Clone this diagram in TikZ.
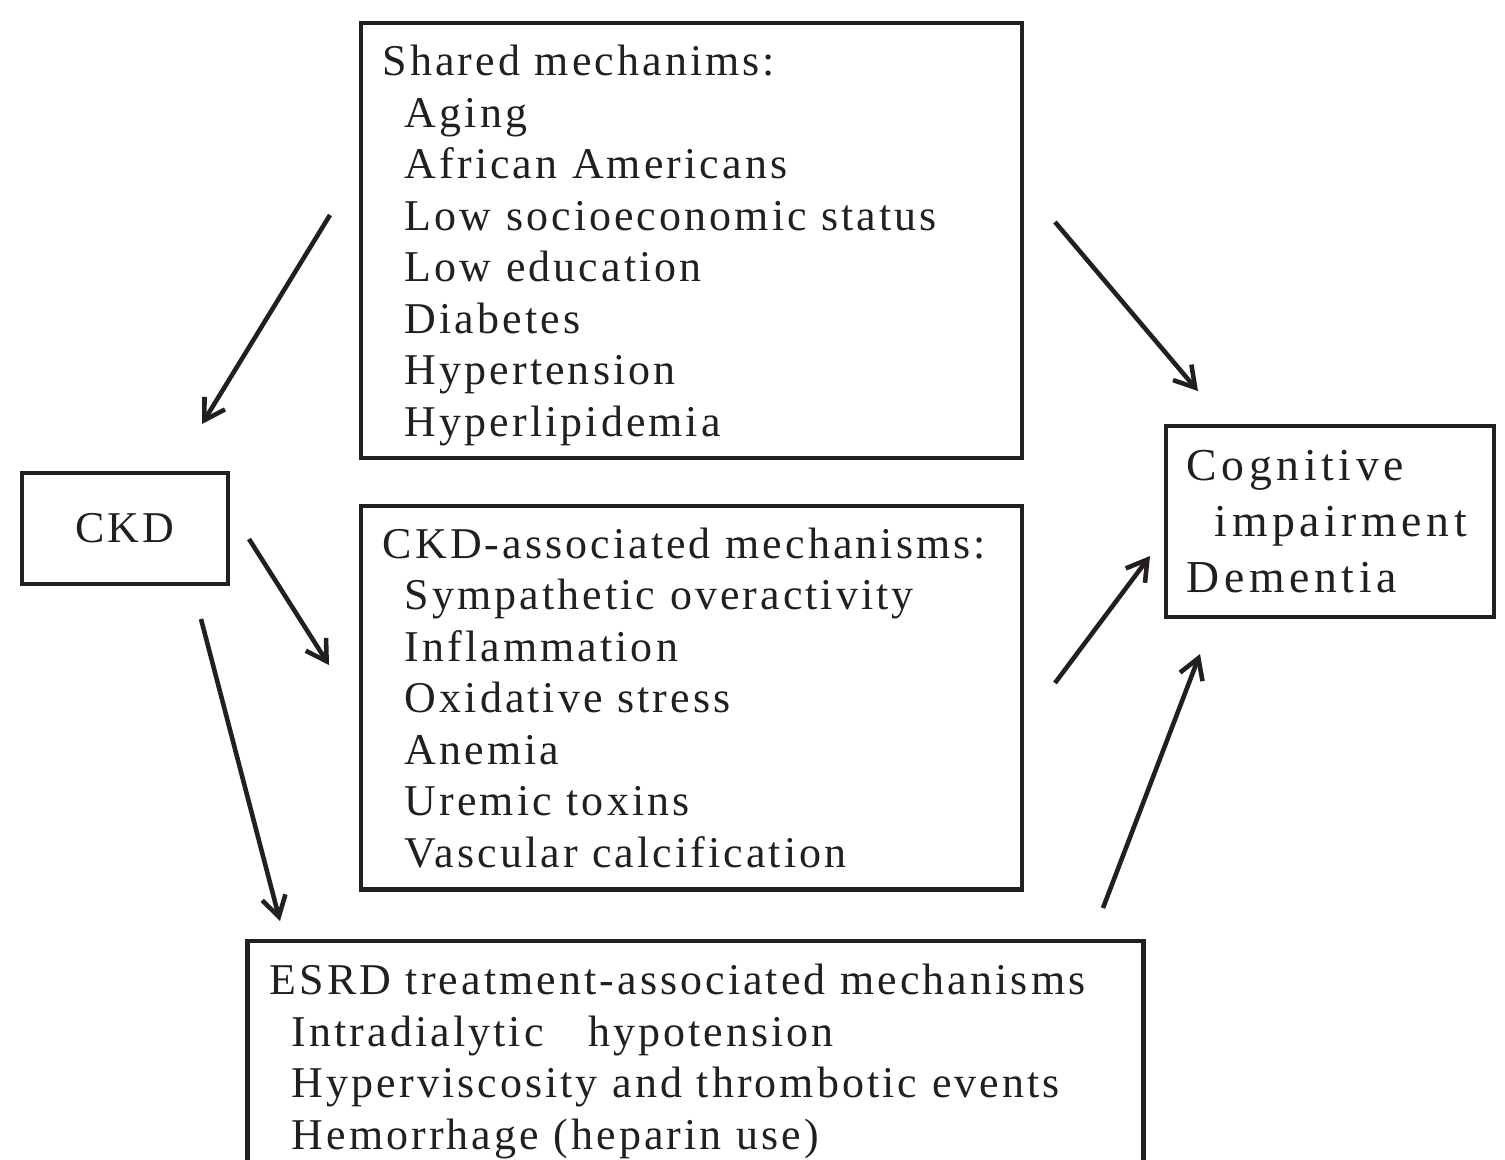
\documentclass[tikz,border=0pt]{standalone}
\usepackage{fontspec}
\setmainfont{Liberation Serif}[LetterSpace=7]
\usetikzlibrary{positioning, arrows.meta}
\definecolor{Ink}{HTML}{231F20}
\newcommand{\ind}{\hspace*{0.22cm}}

\begin{document}
\begin{tikzpicture}[
    x=0.01cm, y=-0.01cm,
    box/.style={draw=Ink, line width=1.3pt, outer sep=0pt, inner xsep=0.22cm, align=left, text=Ink, font=\fontsize{12.5}{14.65}\selectfont},
    arr/.style={-{Straight Barb[length=2mm, width=2.4mm]}, line width=1.3pt, color=Ink}
]
\useasboundingbox (0,0) rectangle (1505,1160);

\node[box, text width=6.17cm, minimum height=4.35cm] (shared) at (691.5,240.5) {\rule{0pt}{11.6pt}Shared mechanims:\\\ind Aging\\\ind African Americans\\\ind Low socioeconomic status\\\ind Low education\\\ind Diabetes\\\ind Hypertension\\\ind Hyperlipidemia};
\node[box, text width=6.17cm, minimum height=3.83cm, below=0.48cm of shared] (ckdmech) {CKD-associated mechanisms:\\\ind Sympathetic overactivity\\\ind Inflammation\\\ind Oxidative stress\\\ind Anemia\\\ind Uremic toxins\\\ind Vascular calcification};
\node[box, align=center, inner xsep=0pt, minimum width=2.06cm, minimum height=1.11cm] (ckd) at (125,528.5) {CKD};
\node[box, text width=2.86cm, inner xsep=0.21cm, minimum height=1.91cm, font=\fontsize{13}{15.9}\selectfont\addfontfeature{LetterSpace=10}] (cog) at (1330,521.5) {Cognitive\\\hspace*{0.28cm}impairment\\Dementia};
\node[box, text width=8.51cm, minimum height=2.34cm] (esrd) at (695.5,1058) {\rule{0pt}{10.6pt}ESRD treatment-associated mechanisms\\\ind Intradialytic\hspace{0.3cm} hypotension\\\ind Hyperviscosity and thrombotic events\\\ind Hemorrhage (heparin use)};

% arrow ends
\coordinate (s1) at (330,215);
\coordinate (s2) at (202,424);
\coordinate (t1) at (1055,222);
\coordinate (t2) at (1198,391);
\coordinate (k1) at (249,539);
\coordinate (k2) at (329,665);
\coordinate (e1) at (201,619);
\coordinate (e2) at (280,921);
\coordinate (m1) at (1055,683);
\coordinate (m2) at (1150,556);
\coordinate (r1) at (1103,908);
\coordinate (r2) at (1200,654);

\draw[arr] (s1) -- (s2);
\draw[arr] (t1) -- (t2);
\draw[arr] (k1) -- (k2);
\draw[arr] (e1) -- (e2);
\draw[arr] (m1) -- (m2);
\draw[arr] (r1) -- (r2);

\end{tikzpicture}
\end{document}
